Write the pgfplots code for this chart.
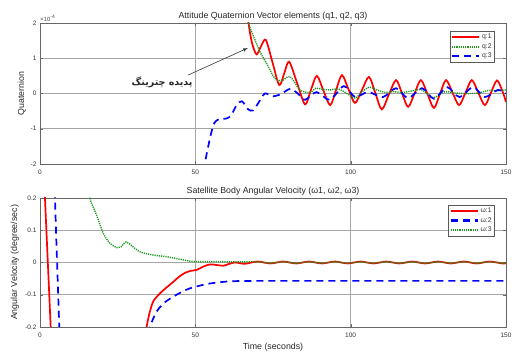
\documentclass[border=0pt]{standalone}
\usepackage{fontspec}
\setmainfont{Liberation Sans}
\newfontfamily\persianfont[Script=Arabic]{DejaVu Sans}
\TeXXeTstate=1
\usepackage{pgfplots}
\pgfplotsset{compat=1.18}
\definecolor{mred}{RGB}{255,0,0}
\definecolor{mgreen}{RGB}{30,150,30}
\definecolor{mblue}{RGB}{0,0,255}
\tikzset{
  lr/.style={draw=mred, line width=1.7pt},
  lg/.style={draw=mgreen, line width=1.4pt, dash pattern=on 1.2pt off 1pt},
  lb/.style={draw=mblue, line width=1.7pt, dash pattern=on 7pt off 5pt},
}
\pgfplotsset{
  every axis title shift=0pt,
  mstyle/.style={
    scale only axis, width=466pt,
    xmin=0, xmax=150, xtick={0,50,100,150},
    grid=major, major grid style={black!35, line width=0.6pt},
    tick align=inside, major tick length=3pt,
    axis line style={black!60, line width=0.5pt},
    tick style={black!60},
    ticklabel style={font=\fontsize{6.5}{7.5}\selectfont, text=black!80},
    xticklabel style={yshift=-2.5pt},
    /pgf/number format/assume math mode=true,
    title style={at={(0.5,1)}, anchor=south, inner sep=2.5pt, font=\fontsize{8.8}{9.5}\selectfont, text=black!85},
    label style={font=\fontsize{8.8}{9.5}\selectfont, text=black!85},
    legend style={anchor=north east, font=\fontsize{6.8}{7.5}\selectfont, draw=black!65, inner sep=1pt, row sep=-1pt, text=black!80, cells={anchor=west}},
    legend image code/.code={\draw[##1] (0pt,0pt) -- (27pt,0pt);},
  },
}
\begin{document}
\begin{tikzpicture}
\path[use as bounding box] (0pt,0pt) rectangle (515pt,352pt);
% ---------------- top axis ----------------
\begin{axis}[mstyle, name=top, at={(40pt,188pt)}, anchor=south west, height=141pt,
  ymin=-2, ymax=2, ytick={-2,-1,0,1,2}, yticklabels={-2,-1,0,1,2},
  title={Attitude Quaternion Vector elements (q1, q2, q3)},
  ylabel={Quaternion},
  ylabel style={at={(axis description cs:-0.039,0.5)}, anchor=center},
  legend style={at={(0.976,0.943)}},
]
\addlegendimage{lr, line width=2.2pt}\addlegendentry{q:1}
\addlegendimage{lg, line width=2pt}\addlegendentry{q:2}
\addlegendimage{lb, line width=2.2pt}\addlegendentry{q:3}
\addplot[lr, smooth, forget plot] coordinates {(66.4,2.5) (67.1,2.0) (68.2,1.45) (69.7,1.11) (71.2,1.35) (72.7,1.52) (74.85,0.88) (77,0.24) (78.6,0.57) (80.2,0.90) (82.75,0.30) (85.3,-0.31) (87.2,0.10) (89.1,0.50) (91.25,0.08) (93.4,-0.33) (95.3,0.10) (97.2,0.52) (99.3,0.12) (101.4,-0.27) (103.65,0.10) (105.9,0.47) (107.95,0.01) (110,-0.45) (112.3,-0.03) (114.6,0.38) (116.55,0.0) (118.5,-0.38) (120.55,0.0) (122.6,0.38) (124.7,-0.01) (126.8,-0.41) (128.75,-0.01) (130.7,0.38) (132.8,0.02) (134.9,-0.33) (136.95,0.02) (139,0.38) (141.1,0.02) (143.2,-0.33) (145.15,0.02) (147.1,0.37) (149.0,0.03) (150,-0.24)};
\addplot[lg, smooth, forget plot] coordinates {(66.5,2.5) (67.1,2.0) (69.2,1.52) (71,1.15) (72.9,0.86) (75.6,0.43) (77.8,0.36) (80.5,0.48) (83.7,0.10) (86.9,0.03) (88.8,0.15) (91,0.12) (93.4,0.10) (96,0.13) (98.8,0.0) (101.4,-0.13) (103.7,0.05) (106,0.18) (108.5,0.10) (111,0.03) (114,0.05) (117,0.03) (120,0.08) (123,0.10) (126.5,-0.12) (130.2,0.05) (133,0.02) (136,0.0) (139,0.0) (141.5,0.02) (144.6,0.09) (147,0.08) (150,0.10)};
\addplot[lb, smooth, forget plot] coordinates {(52.6,-2.2) (54.1,-1.52) (55.8,-0.9) (57.5,-0.73) (60,-0.71) (61.5,-0.62) (63.3,-0.33) (65,-0.22) (67,-0.45) (68.6,-0.48) (70.2,-0.28) (72.4,0.0) (74.6,-0.08) (77.3,-0.03) (80.5,0.13) (83,0.0) (85.3,-0.18) (89,0.04) (93.3,-0.18) (97.8,0.21) (101.4,-0.10) (105.6,0.04) (110.4,-0.10) (114.6,0.15) (118.5,-0.13) (123,0.15) (126.8,-0.15) (131,0.18) (135,-0.10) (139.4,0.18) (143.2,-0.10) (147.4,0.10) (150,0.0)};
\draw[-latex, black!80, line width=0.6pt] (axis cs:47.6,0.52) -- (axis cs:66.9,1.29);
\node[font=\persianfont\bfseries\fontsize{9.5}{10}\selectfont, text=black!85] at (axis cs:39.3,0.33) {\beginR پدیده چترینگ\endR};
\end{axis}
\node[anchor=south west, inner sep=0pt, font=\fontsize{6}{6.5}\selectfont, text=black!70] at ([yshift=1.5pt]top.north west) {×10\textsuperscript{-4}};
% ---------------- bottom axis ----------------
\begin{axis}[mstyle, at={(40pt,25pt)}, anchor=south west, height=129pt,
  ymin=-0.2, ymax=0.2, ytick={-0.2,-0.1,0,0.1,0.2}, yticklabels={-0.2,-0.1,0,0.1,0.2},
  title={Satellite Body Angular Velocity (ω1, ω2, ω3)},
  ylabel={Angular Velocity (degree/sec)},
  ylabel style={at={(axis description cs:-0.054,0.5)}, anchor=center},
  xlabel={Time (seconds)},
  xlabel style={at={(axis description cs:0.5,-0.153)}, anchor=center},
  legend style={at={(0.976,0.946)}},
]
\addlegendimage{lr, line width=2.2pt}\addlegendentry{ω:1}
\addlegendimage{lb, line width=2.2pt}\addlegendentry{ω:2}
\addlegendimage{lg, line width=2pt}\addlegendentry{ω:3}
\addplot[lr, forget plot] coordinates {(1.23,0.28) (3.81,-0.28)};
\addplot[lb, smooth, forget plot] coordinates {(4.7,0.26) (4.85,0.19) (5.5,0.0) (6.2,-0.2) (6.3,-0.25)};
\addplot[lr, smooth, forget plot] coordinates {(33.8,-0.23) (34.3,-0.2) (35.3,-0.155) (36.5,-0.12) (38.6,-0.096) (40.8,-0.077) (42.9,-0.06) (44.8,-0.044) (46.7,-0.032) (48.5,-0.026) (50.4,-0.023) (52.5,-0.013) (54.7,-0.006) (57,-0.008) (59,-0.01) (61,-0.004) (62.8,0.0) (66,-0.004) (70,0.003) (74.15,-0.003) (78.3,0.003) (82.45,-0.003) (86.6,0.003) (90.75,-0.003) (94.9,0.003) (99.05,-0.003) (103.2,0.003) (107.35,-0.003) (111.5,0.003) (115.65,-0.003) (119.8,0.003) (123.95,-0.003) (128.1,0.003) (132.25,-0.003) (136.4,0.003) (140.55,-0.003) (144.7,0.003) (148.85,-0.003) (150,-0.002)};
\addplot[lb, smooth, forget plot] coordinates {(34.6,-0.22) (35.3,-0.2) (37.5,-0.153) (40,-0.125) (42.9,-0.106) (45.5,-0.092) (48.3,-0.08) (53.6,-0.067) (58,-0.061) (62.2,-0.058) (70,-0.057) (90,-0.057) (110,-0.057) (130,-0.057) (150,-0.057)};
\addplot[lg, smooth, forget plot] coordinates {(14.5,0.3) (16.1,0.2) (17.2,0.17) (18.2,0.147) (20.4,0.09) (22.5,0.06) (24.7,0.046) (26,0.048) (27.7,0.064) (29.5,0.052) (32.2,0.033) (36.5,0.023) (40.8,0.018) (45.1,0.01) (49.4,0.003) (56.9,0.003) (62,0.002) (70,0.002) (74.15,-0.002) (78.3,0.002) (82.45,-0.002) (86.6,0.002) (90.75,-0.002) (94.9,0.002) (99.05,-0.002) (103.2,0.002) (107.35,-0.002) (111.5,0.002) (115.65,-0.002) (119.8,0.002) (123.95,-0.002) (128.1,0.002) (132.25,-0.002) (136.4,0.002) (140.55,-0.002) (144.7,0.002) (148.85,-0.002) (150,-0.001)};
\end{axis}
\end{tikzpicture}
\end{document}
